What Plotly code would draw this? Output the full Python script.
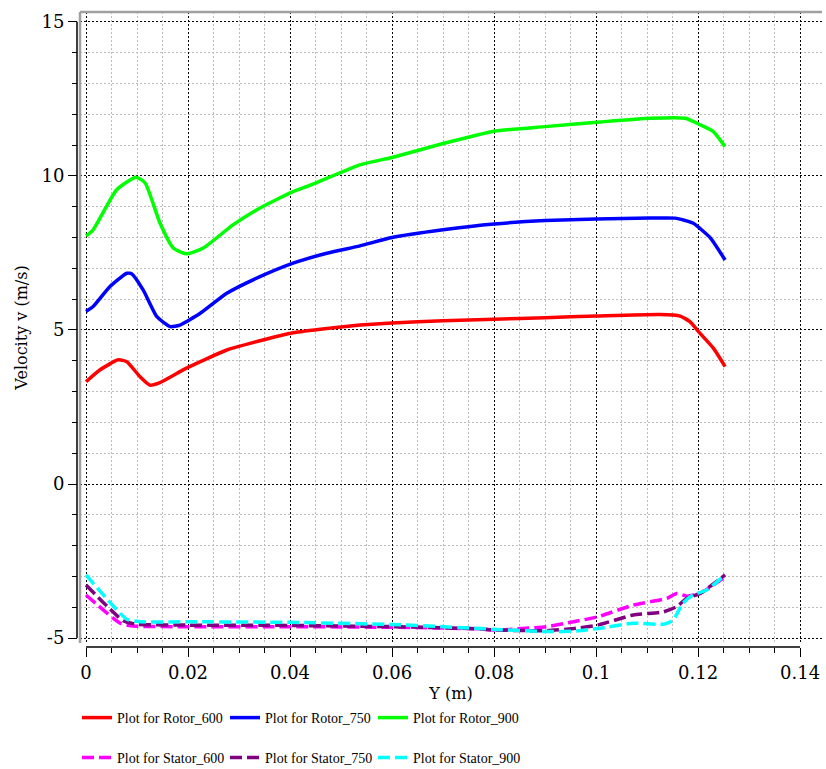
import plotly.graph_objects as go

# ---------------- data ----------------
rotor600_x = [0, 0.0027, 0.0063, 0.008, 0.0106, 0.0125, 0.0145, 0.0197, 0.0276, 0.0341, 0.0406, 0.0472,
              0.0537, 0.06, 0.07, 0.08, 0.09, 0.1, 0.1125, 0.1165, 0.1184, 0.1204, 0.123, 0.1253]
rotor600_y = [3.32, 3.7, 4.03, 3.97, 3.48, 3.21, 3.29, 3.76, 4.35, 4.65, 4.91, 5.05,
              5.16, 5.23, 5.3, 5.35, 5.4, 5.45, 5.5, 5.45, 5.27, 4.89, 4.41, 3.81]

rotor750_x = [0, 0.0014, 0.0047, 0.008, 0.009, 0.0112, 0.0139, 0.0165, 0.0184, 0.0224, 0.0276, 0.0341,
              0.0406, 0.0472, 0.0537, 0.06, 0.07, 0.08, 0.09, 0.1, 0.1106, 0.1155, 0.119, 0.1224, 0.1253]
rotor750_y = [5.6, 5.76, 6.41, 6.84, 6.82, 6.3, 5.43, 5.11, 5.16, 5.54, 6.19, 6.73,
              7.17, 7.49, 7.73, 8.0, 8.25, 8.44, 8.55, 8.6, 8.63, 8.63, 8.47, 7.99, 7.27]

rotor900_x = [0, 0.0014, 0.006, 0.0098, 0.0116, 0.0145, 0.0171, 0.0197, 0.023, 0.0288, 0.0341, 0.0406,
              0.044, 0.0537, 0.06, 0.07, 0.08, 0.09, 0.1008, 0.1106, 0.1175, 0.1204, 0.123, 0.1253]
rotor900_y = [8.05, 8.25, 9.55, 9.96, 9.77, 8.47, 7.66, 7.47, 7.66, 8.41, 8.96, 9.49,
              9.7, 10.36, 10.6, 11.05, 11.45, 11.6, 11.75, 11.87, 11.87, 11.66, 11.44, 10.95]

stator600_x = [0, 0.0067, 0.0093, 0.02, 0.04, 0.06, 0.077, 0.0803, 0.0855, 0.0903, 0.0956, 0.1003,
               0.1073, 0.1139, 0.1158, 0.1178, 0.1204, 0.1253]
stator600_y = [-3.6, -4.52, -4.61, -4.63, -4.63, -4.65, -4.7, -4.74, -4.69, -4.63, -4.47, -4.31,
               -3.93, -3.71, -3.55, -3.64, -3.55, -3.01]

stator750_x = [0, 0.0073, 0.0099, 0.02, 0.04, 0.06, 0.077, 0.0803, 0.0903, 0.0956, 0.1003, 0.1073,
               0.1132, 0.1158, 0.1178, 0.1204, 0.1253]
stator750_y = [-3.28, -4.44, -4.55, -4.58, -4.59, -4.63, -4.7, -4.74, -4.76, -4.69, -4.58, -4.25,
               -4.15, -3.98, -3.71, -3.55, -2.95]

stator900_x = [0, 0.008, 0.0106, 0.02, 0.04, 0.06, 0.0773, 0.0803, 0.0903, 0.0962, 0.1003, 0.1073,
               0.1132, 0.1151, 0.117, 0.119, 0.1217, 0.1253]
stator900_y = [-2.95, -4.39, -4.47, -4.47, -4.49, -4.56, -4.69, -4.72, -4.79, -4.77, -4.69, -4.52,
               -4.55, -4.42, -3.87, -3.6, -3.44, -2.95]

x_tick_vals = [0, 0.02, 0.04, 0.06, 0.08, 0.1, 0.12, 0.14]
x_tick_text = ["0", "0.02", "0.04", "0.06", "0.08", "0.1", "0.12", "0.14"]
y_tick_vals = [-5, 0, 5, 10, 15]
y_tick_text = ["-5", "0", "5", "10", "15"]

series = [
    ("Plot for Rotor_600", rotor600_x, rotor600_y, "#ff0000", "solid", "legend"),
    ("Plot for Rotor_750", rotor750_x, rotor750_y, "#0000ff", "solid", "legend"),
    ("Plot for Rotor_900", rotor900_x, rotor900_y, "#00ff00", "solid", "legend"),
    ("Plot for Stator_600", stator600_x, stator600_y, "#ff00ff", "12px,5px", "legend2"),
    ("Plot for Stator_750", stator750_x, stator750_y, "#800080", "12px,5px", "legend2"),
    ("Plot for Stator_900", stator900_x, stator900_y, "#00ffff", "12px,5px", "legend2"),
]

FONT = "DejaVu Serif"
LEG_FONT = "Liberation Serif, DejaVu Serif"
W, H = 826, 769
L, R, T, B = 77, 4, 12, 122
PW = W - L - R
PH = H - T - B

fig = go.Figure()
for name, xs, ys, col, dash, lg in series:
    fig.add_trace(go.Scatter(x=xs, y=ys, mode="lines", name=name, legend=lg,
                             line=dict(color=col, width=3.5, dash=dash, shape="spline", smoothing=0.5)))

grid_major = dict(showgrid=True, gridcolor="#000000", gridwidth=1, griddash="2px,2px")
minor_style = dict(showgrid=True, gridcolor="#bcbcbc", gridwidth=1, griddash="2px,2px",
                   ticks="outside", ticklen=5, tickcolor="black", tickwidth=1)

leg_common = dict(orientation="h", x=0.0, xanchor="left", yanchor="middle",
                  entrywidth=103, entrywidthmode="pixels", font=dict(size=14, family=LEG_FONT),
                  bgcolor="rgba(0,0,0,0)", tracegroupgap=0)

fig.update_layout(
    width=W, height=H,
    margin=dict(l=L, r=R, t=T, b=B, pad=0, autoexpand=False),
    paper_bgcolor="white", plot_bgcolor="white",
    font=dict(family=FONT, color="black"),
    xaxis=dict(domain=[3 / PW, 1], range=[-0.00118, 0.1443], anchor="free", position=0, automargin=False,
               tickvals=x_tick_vals, ticktext=x_tick_text, ticks="outside", ticklen=9,
               tickcolor="black", tickfont=dict(size=18, family=FONT), showline=False, zeroline=False,
               title=dict(text="Y (m)", font=dict(size=16, family=FONT), standoff=6),
               minor=dict(dtick=0.005, tick0=0, **minor_style), **grid_major),
    yaxis=dict(domain=[4 / PH, 1], range=[-5.16, 15.32], anchor="free", position=0, automargin=False,
               tickvals=y_tick_vals, ticktext=y_tick_text, ticks="outside", ticklen=9,
               tickcolor="black", tickfont=dict(size=18, family=FONT), showline=False, zeroline=False,
               title=dict(text="Velocity v (m/s)", font=dict(size=16, family=FONT), standoff=8),
               minor=dict(dtick=1, tick0=0, **minor_style), **grid_major),
    legend=dict(y=(647 - 718) / PH, **leg_common),
    legend2=dict(y=(647 - 758) / PH, **leg_common),
    showlegend=True,
    shapes=[
        # axis lines spanning the tick range
        dict(type="line", xref="x", yref="paper", x0=0, x1=0.14, y0=0, y1=0,
             line=dict(color="black", width=1.5)),
        dict(type="line", xref="paper", yref="y", x0=0, x1=0, y0=-5, y1=15,
             line=dict(color="black", width=1.5)),
        # gray frame (top and left)
        dict(type="line", xref="x domain", yref="y domain", x0=0, x1=1, y0=1, y1=1,
             line=dict(color="#a0a0a0", width=2.5)),
        dict(type="line", xref="x domain", yref="y domain", x0=0, x1=0, y0=0, y1=1,
             line=dict(color="#a0a0a0", width=2.5)),
    ],
)

fig.write_html(
    "out.html",
    config={"displayModeBar": False},
    post_script="document.body.style.margin='0px';document.body.style.padding='0px';"
                "document.body.style.overflow='hidden';",
)
